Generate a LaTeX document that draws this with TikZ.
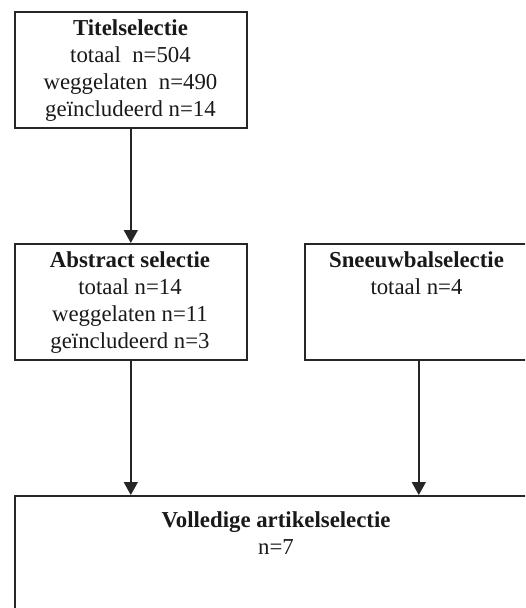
\documentclass[tikz,border=0pt]{standalone}
\usepackage{fontspec}
\setmainfont{Liberation Serif}
\usetikzlibrary{arrows.meta}
\newcommand\firststrut{\rule{0pt}{17pt}}
\begin{document}
\begin{tikzpicture}[x=1pt,y=-1pt,
  box/.style={draw=black!85, line width=1.6pt, rectangle, inner sep=0pt, anchor=north west},
  txt/.style={anchor=north, align=center, inner sep=0pt, font=\fontsize{22.8}{27}\selectfont, text=black!90},
  conn/.style={draw=black!85, line width=1.6pt, -{Triangle[width=14pt,length=13pt]}}]
\useasboundingbox (0,0) rectangle (525,608);
\clip (0,0) rectangle (525,608);
\node[box, minimum width=232pt, minimum height=116pt] (b1) at (14,11) {};
\node[box, minimum width=232pt, minimum height=116pt] (b2) at (14,243) {};
\node[box, minimum width=228pt, minimum height=116pt] (b3) at (304,243) {};
\node[box, minimum width=524pt, minimum height=200pt] (b4) at (14,495) {};
\node[txt] (t1) at (130.5,18) {\firststrut\textbf{Titelselectie}\\totaal\ \ n=504\\weggelaten\ \ n=490\\geïncludeerd n=14};
\node[txt] (t2) at (130,250) {\firststrut\textbf{Abstract selectie}\\totaal n=14\\weggelaten n=11\\geïncludeerd n=3};
\node[txt] (t3) at (416.5,250) {\firststrut\textbf{Sneeuwbalselectie}\\totaal n=4};
\node[txt] (t4) at (276,510) {\firststrut\textbf{Volledige artikelselectie}\\n=7};
\draw[conn] (b1.south) -- (b1.south |- b2.north);
\draw[conn] (b2.south) -- (b2.south |- b4.north);
\draw[conn] (b3.south) -- (b3.south |- b4.north);
\end{tikzpicture}
\end{document}
